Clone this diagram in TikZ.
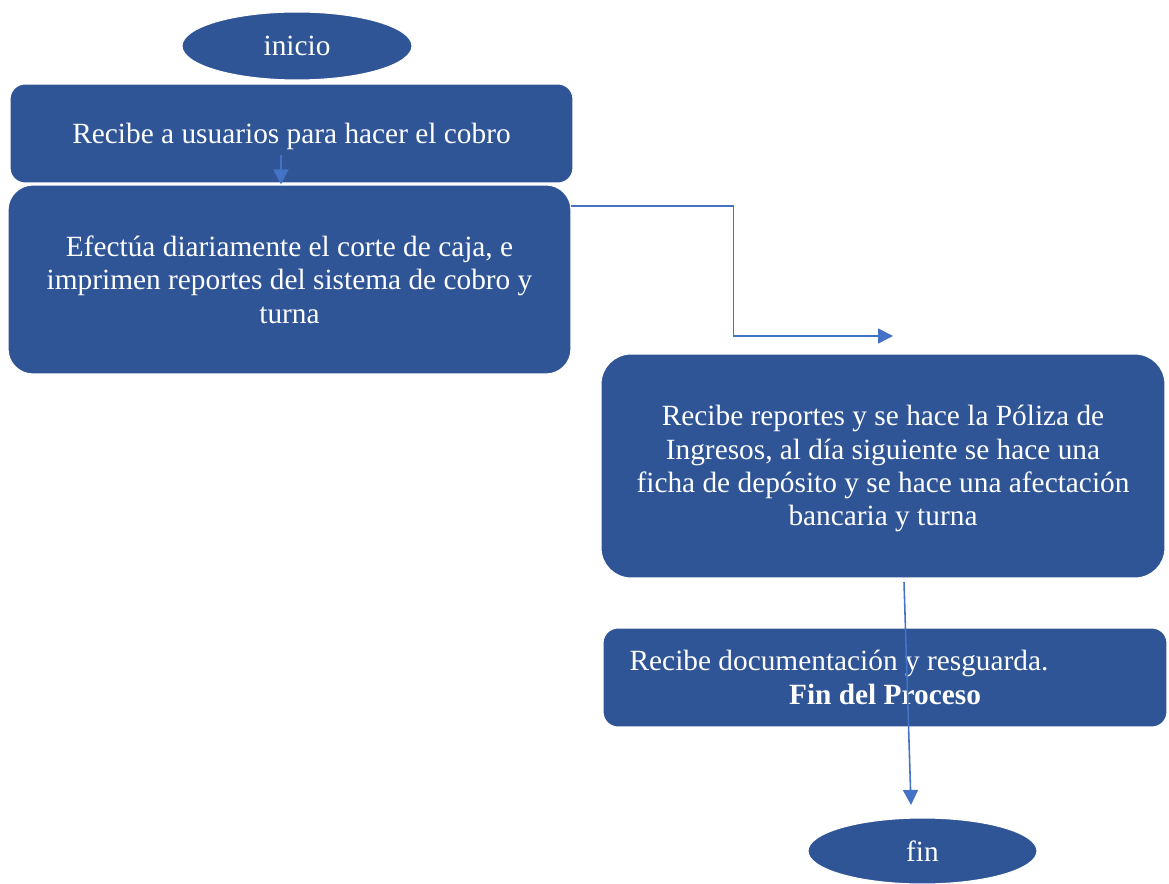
\documentclass[tikz,border=0pt]{standalone}
\usepackage{fontspec}
\setmainfont{Liberation Serif}
\usetikzlibrary{shapes.geometric,arrows.meta,calc}

\definecolor{boxblue}{HTML}{2F5597}
\definecolor{linkblue}{HTML}{4472C4}

% taller first line so the text block sits a little lower in its box
\newcommand\firstlift{\rule{0pt}{14.7pt}}

\tikzset{
  base/.style={fill=boxblue, draw=white, line width=0.6pt, text=white,
    font=\fontsize{16.7}{19.0}\selectfont, align=center, inner sep=0pt},
  term/.style={base, ellipse},
  stepbox/.style={base, rectangle},
  link/.style={draw=linkblue, line width=0.9pt,
    -{Triangle[length=0.3cm,width=0.3cm]}},
}

\begin{document}
\begin{tikzpicture}[x=0.02cm, y=-0.02cm]
  \useasboundingbox (0,0) rectangle (1169,884);

  % start and end terminals
  \node[term, minimum width=4.6cm, minimum height=1.36cm] (inicio) at (297,46) {inicio};
  \node[term, minimum width=4.58cm, minimum height=1.32cm] (fin) at (922.5,851) {fin};

  % process steps
  \node[stepbox, rounded corners=0.3cm, minimum width=11.26cm, minimum height=1.98cm]
    (r1) at (291.5,133.5) {\firstlift Recibe a usuarios para hacer el cobro};
  \node[stepbox, rounded corners=0.5cm, minimum width=11.26cm, minimum height=3.78cm]
    (r2) at (289.5,279.5) {Efectúa diariamente el corte de caja, e\\
      imprimen reportes del sistema de cobro y\\ turna};
  \node[stepbox, rounded corners=0.6cm, minimum width=11.28cm, minimum height=4.48cm]
    (r3) at (883,466) {\firstlift Recibe reportes y se hace la Póliza de\\
      Ingresos, al día siguiente se hace una\\
      ficha de depósito y se hace una afectación\\ bancaria y turna};
  \node[stepbox, rounded corners=0.3cm, minimum width=11.28cm, minimum height=1.98cm]
    (r4) at (885,677.5) {Recibe documentación y resguarda.\makebox[1.84cm]{}\\
      \textbf{Fin del Proceso}};

  % connectors
  \coordinate (a1) at (281,155);
  \draw[link] (a1) -- (a1 |- r2.north);

  \coordinate (e1) at (893,336);
  \draw[link] ($(r2.east)+(0,-73.5)$) -- ++(162,0) |- (e1);

  \coordinate (s1) at (904,582);
  \coordinate (t1) at (911,805);
  \draw[link] (s1) -- (t1);
\end{tikzpicture}
\end{document}
